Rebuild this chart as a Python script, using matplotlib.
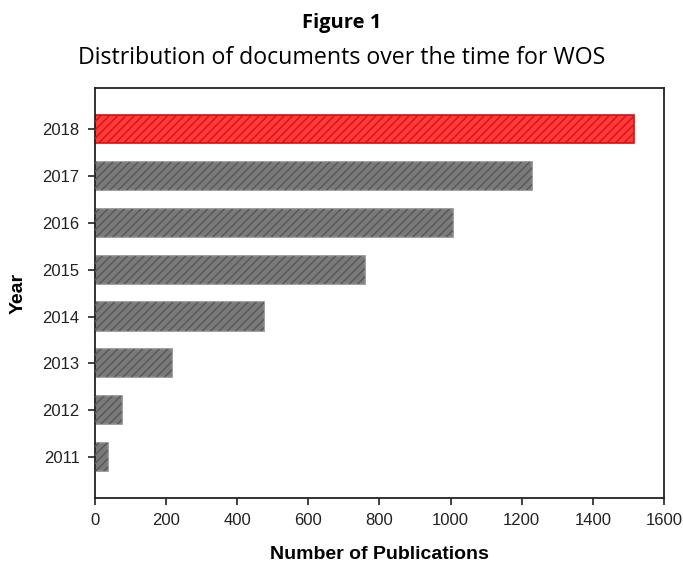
import matplotlib.pyplot as plt

plt.rcParams['font.family'] = ['Liberation Sans', 'DejaVu Sans']
plt.rcParams['hatch.linewidth'] = 1.1

years = ['2011', '2012', '2013', '2014', '2015', '2016', '2017', '2018']
publications = [37, 77, 217, 475, 759, 1007, 1229, 1515]
x_ticks = [0, 200, 400, 600, 800, 1000, 1200, 1400, 1600]

fig = plt.figure(figsize=(6.83, 5.65), dpi=100)
ax = fig.add_axes([0.139, 0.1186, 0.833, 0.7254])

# last year is highlighted in red, the rest gray
face = ['#7a7a7a'] * (len(years) - 1) + ['#ff3a3a']
edge = ['#8c8c8c'] * (len(years) - 1) + ['#d01010']
hatch_col = ['#5a5a5a'] * (len(years) - 1) + ['#d81616']

pos = list(range(len(years)))
ax.barh(pos, publications, height=0.6, color=face, edgecolor=edge, linewidth=1.2, zorder=2)
for p, v, hc in zip(pos, publications, hatch_col):
    ax.barh(p, v, height=0.6, facecolor='none', edgecolor=hc, hatch='////', linewidth=0, zorder=3)

ax.set_xlim(0, 1600)
ax.set_ylim(-0.87, 7.87)
ax.set_xticks(x_ticks)
ax.set_yticks(pos)
ax.set_yticklabels(years)
ax.tick_params(axis='both', direction='out', length=5, width=1.2, labelsize=12, color='#222222',
               labelcolor='#222222')
ax.tick_params(axis='x', pad=6)
ax.tick_params(axis='y', pad=6)
for s in ax.spines.values():
    s.set_linewidth(1.3)
    s.set_color('#222222')

ax.set_xlabel('Number of Publications', fontsize=14, fontweight='bold', labelpad=13)
ax.set_ylabel('Year', fontsize=14, fontweight='bold', labelpad=11)

fig.text(0.5, 0.959, 'Figure 1', ha='center', va='center', fontsize=14.5, fontweight='bold',
         family=['Open Sans', 'DejaVu Sans'])
fig.text(0.5, 0.897, 'Distribution of documents over the time for WOS', ha='center', va='center',
         fontsize=16.7, family=['Open Sans', 'DejaVu Sans'])

fig.savefig('out.png', dpi=100)
